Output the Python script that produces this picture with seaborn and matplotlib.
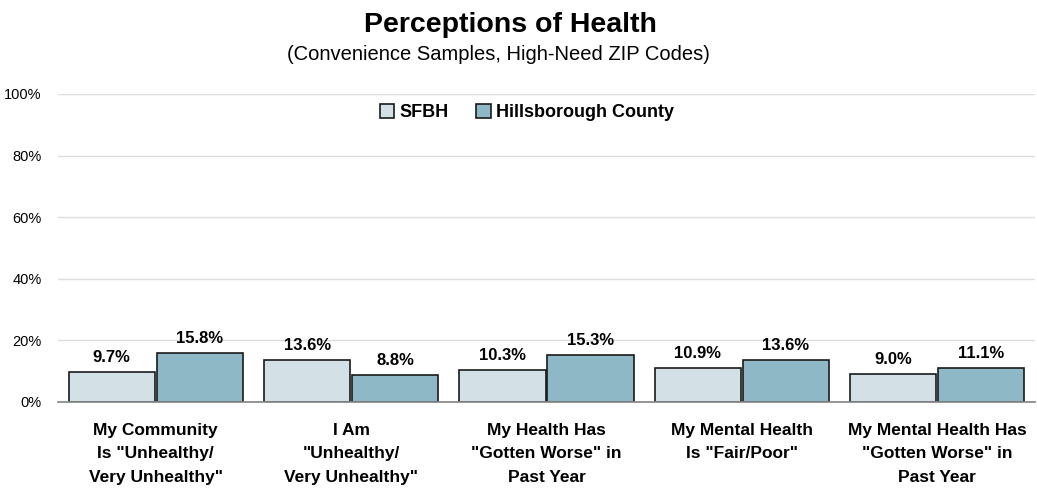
import matplotlib.pyplot as plt
import pandas as pd
import seaborn as sns
from matplotlib.ticker import PercentFormatter

# Dados do gráfico
categorias = [
    'My Community\nIs "Unhealthy/\nVery Unhealthy"',
    'I Am\n"Unhealthy/\nVery Unhealthy"',
    'My Health Has\n"Gotten Worse" in\nPast Year',
    'My Mental Health\nIs "Fair/Poor"',
    'My Mental Health Has\n"Gotten Worse" in\nPast Year',
]
sfbh = [9.7, 13.6, 10.3, 10.9, 9.0]
hillsborough = [15.8, 8.8, 15.3, 13.6, 11.1]
series = ['SFBH', 'Hillsborough County']
cores = ['#D3E0E6', '#8FB8C7']

df = pd.DataFrame({
    'categoria': categorias * 2,
    'valor': sfbh + hillsborough,
    'grupo': [series[0]] * 5 + [series[1]] * 5,
})

sns.set_theme(style="white")
plt.rcParams['font.family'] = ['Liberation Sans', 'DejaVu Sans']
plt.rcParams['text.color'] = 'black'
plt.rcParams['xtick.color'] = 'black'
plt.rcParams['ytick.color'] = 'black'

fig = plt.figure(figsize=(10.37, 4.92), dpi=100)
ax = fig.add_axes([0.056, 0.183, 0.942, 0.626])

sns.barplot(data=df, x='categoria', y='valor', hue='grupo', palette=cores,
            saturation=1, width=0.9, edgecolor='#1a1a1a', linewidth=1.2,
            ax=ax, gap=0.02)

for cont in ax.containers:
    ax.bar_label(cont, labels=[f'{v:.1f}%' for v in cont.datavalues],
                 padding=5, fontsize=12, fontweight='bold')

ax.set_ylim(0, 100)
ax.set_xlim(-0.5, 4.5)
ax.set_yticks(range(0, 101, 20))
ax.yaxis.set_major_formatter(PercentFormatter(decimals=0))
ax.grid(axis='y', color='#dddddd', linewidth=1)
ax.set_axisbelow(True)
for s in ['top', 'right', 'left']:
    ax.spines[s].set_visible(False)
ax.spines['bottom'].set_color('#888888')
ax.tick_params(axis='y', labelsize=10.5, length=0, pad=12)
ax.tick_params(axis='x', labelsize=12.5, length=0, pad=15)
for t in ax.get_xticklabels():
    t.set_fontweight('bold')
    t.set_linespacing(1.7)
ax.set_xlabel('')
ax.set_ylabel('')

ax.legend(loc='upper center', bbox_to_anchor=(0.48, 1.02), ncol=2,
          frameon=False, prop={'weight': 'bold', 'size': 13},
          handlelength=0.8, handleheight=0.8, columnspacing=1.5, handletextpad=0.3)

fig.text(0.492, 0.949, 'Perceptions of Health', ha='center', va='center',
         fontsize=20.5, fontweight='bold')
fig.text(0.481, 0.889, '(Convenience Samples, High-Need ZIP Codes)', ha='center',
         va='center', fontsize=14.5)

plt.savefig('out.png', dpi=100)
